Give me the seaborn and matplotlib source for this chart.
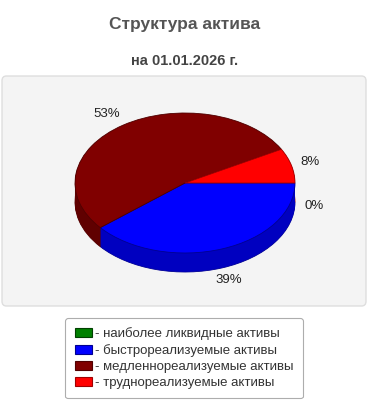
import numpy as np
import matplotlib
matplotlib.use("Agg")
import matplotlib.pyplot as plt
from matplotlib.patches import FancyBboxPatch, Patch
import seaborn as sns

# ---- data ----
title = "Структура актива"
subtitle = "на 01.01.2026 г."
categories = ["наиболее ликвидные активы", "быстрореализуемые активы",
              "медленнореализуемые активы", "труднореализуемые активы"]
values = [0, 39, 53, 8]
colors = ["#008000", "#0000ff", "#800000", "#ff0000"]
side_colors = ["#006000", "#0000c0", "#600000", "#c00000"]
edge_colors = ["#004000", "#000090", "#500000", "#a00000"]

sns.set_theme(style="white")
plt.rcParams["font.family"] = ["Liberation Sans", "DejaVu Sans"]

W, H = 370, 400
fig = plt.figure(figsize=(W / 100, H / 100), dpi=100)
fig.patch.set_facecolor("white")

# gray panel
panel = FancyBboxPatch((2 / W, 1 - 306 / H), 364 / W, 230 / H,
                       boxstyle="round,pad=0,rounding_size=0.012",
                       transform=fig.transFigure, facecolor="#f4f4f4",
                       edgecolor="#dedede", linewidth=1.0, zorder=-5)
fig.patches.append(panel)

fig.text(0.5, 1 - 24 / H, title, ha="center", va="center", fontsize=12.5,
         fontweight="bold", color="#555555")
fig.text(0.5, 1 - 61 / H, subtitle, ha="center", va="center", fontsize=10.5,
         fontweight="bold", color="#444444")

# pie axes
top_px, bot_px = 78, 305
ax = fig.add_axes([0, 1 - bot_px / H, 1, (bot_px - top_px) / H])
ax.set_facecolor("none")
ax.set_zorder(2)
rx, ry = 110.0, 70.0
cx_px, cy_px = 185.0, 183.0
depth = 19.0 / ry

N = 40
for k in range(N, 0, -1):
    wedges, _ = ax.pie(values, colors=side_colors, startangle=0,
                       counterclock=False, center=(0, -depth * k / N),
                       radius=1, normalize=True,
                       wedgeprops=dict(linewidth=0))
    if k == N:
        for w, ec in zip(wedges, edge_colors):
            w.set_edgecolor(ec)
            w.set_linewidth(0.6)
wedges, _ = ax.pie(values, colors=colors, startangle=0, counterclock=False,
                   center=(0, 0), radius=1, normalize=True,
                   wedgeprops=dict(linewidth=0.6))
for w, ec, v in zip(wedges, edge_colors, values):
    w.set_edgecolor(ec if v > 0 else "none")

# labels
vals = np.array(values, dtype=float)
cum = np.cumsum(vals) - vals / 2
mids = -np.deg2rad(cum / vals.sum() * 360)
for v, a in zip(values, mids):
    s = np.sin(a)
    c = np.cos(a)
    x = (1.27 if c < 0 else 1.17) * c
    if s > 0.05:
        y = 1.2 * s
    else:
        y = 1.12 * s - depth - 0.06
    ax.text(x, y, f"{v}%", ha="center", va="center", fontsize=9.5,
            color="#222222")

ax.set_aspect("auto")
ax.set_xlim(-cx_px / rx, (W - cx_px) / rx)
ax.set_ylim(-(bot_px - cy_px) / ry, (cy_px - top_px) / ry)
ax.axis("off")

handles = [Patch(facecolor=c, edgecolor=e, linewidth=0.8) for c, e in zip(colors, edge_colors)]
labels = ["- " + c for c in categories]
leg = fig.legend(handles, labels, loc="upper center",
                 bbox_to_anchor=(184 / W, 1 - 318 / H), fontsize=9.5,
                 frameon=True, fancybox=True, handlelength=1.35,
                 handleheight=0.6, handletextpad=0.2, labelspacing=0.3,
                 borderpad=0.7, borderaxespad=0)
leg.get_frame().set_edgecolor("#999999")
leg.get_frame().set_linewidth(0.8)
for t in leg.get_texts():
    t.set_color("#333333")

fig.savefig("out.png", dpi=100, facecolor="white")
